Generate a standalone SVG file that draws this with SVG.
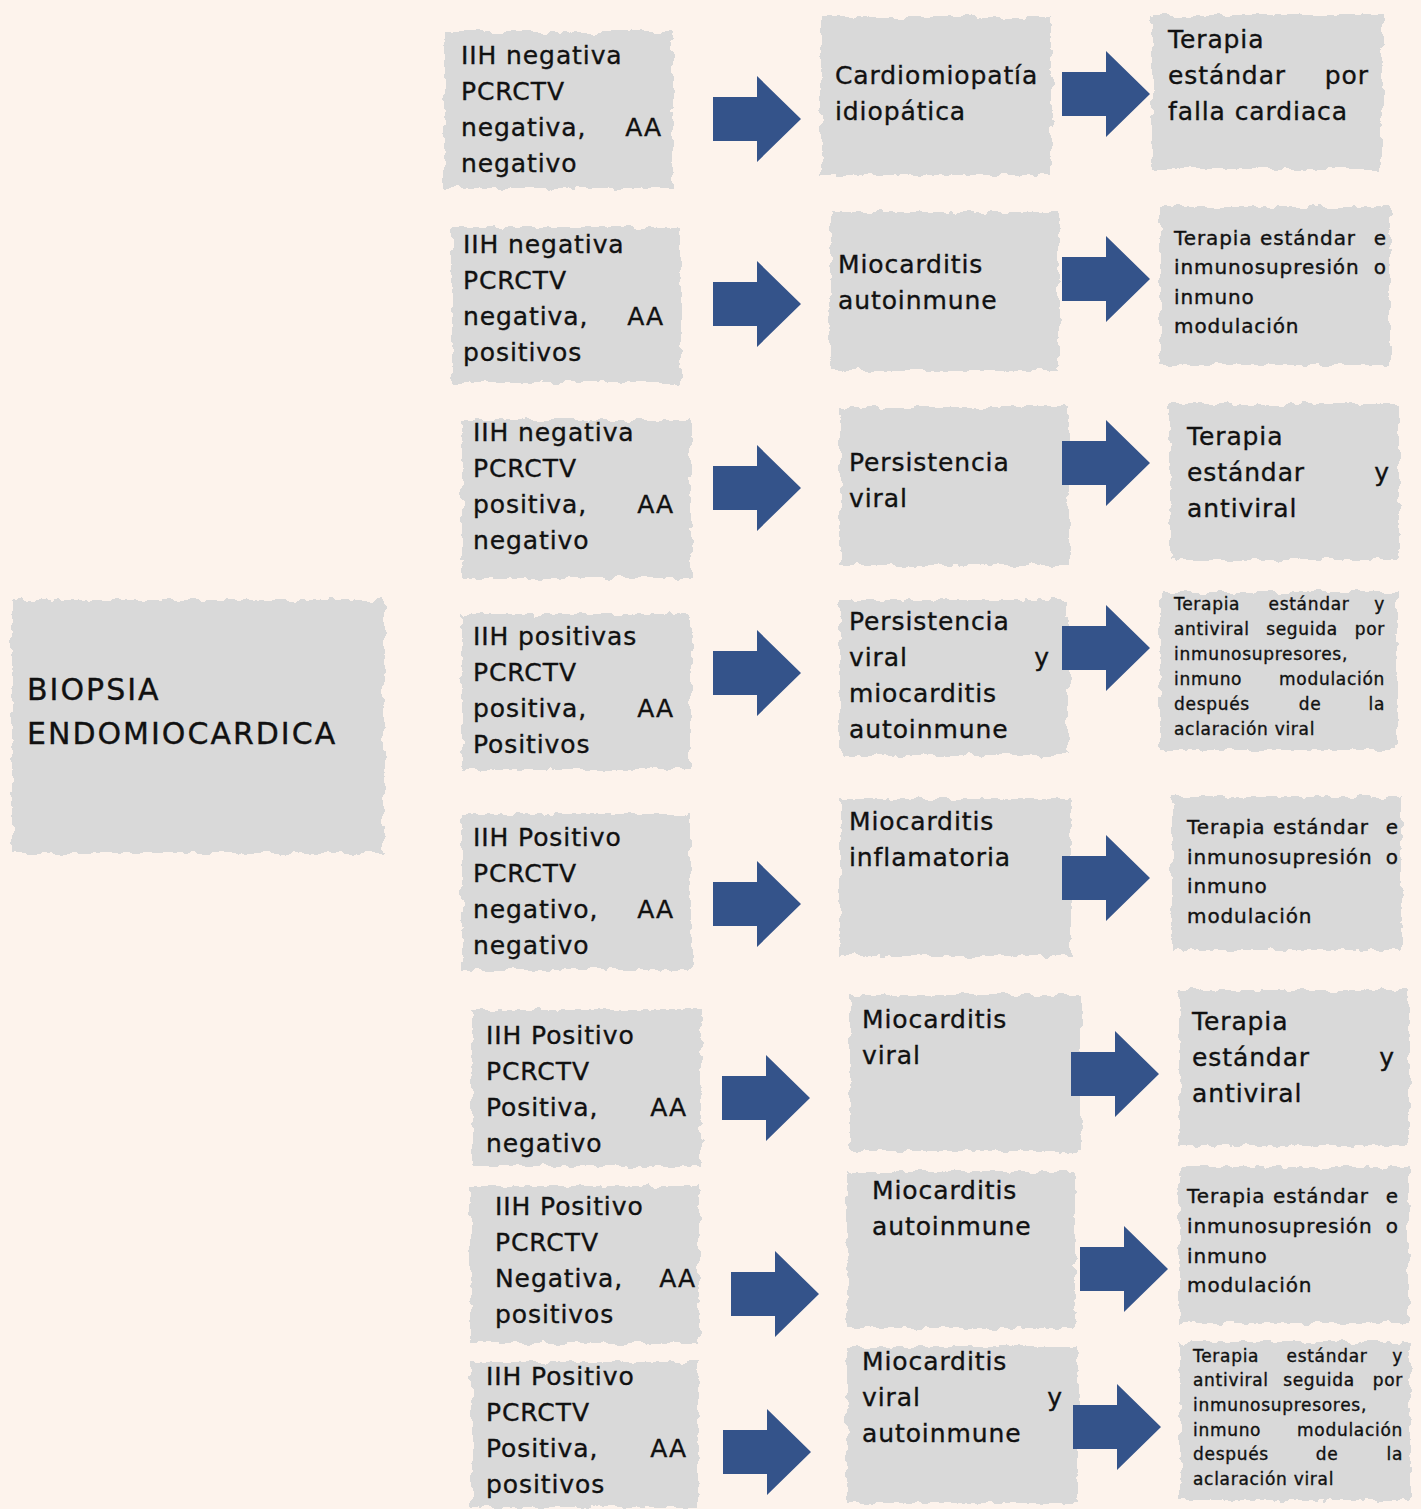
<svg xmlns="http://www.w3.org/2000/svg" xmlns:xlink="http://www.w3.org/1999/xlink" width="1421" height="1509" viewBox="0 0 1421 1509">
<style>
.box{fill:#d9d9d9;filter:url(#rough)}
text{font-family:"DejaVu Sans","Liberation Sans",sans-serif;fill:#111;stroke:#111;stroke-width:0.35px}
.l{font-size:25px;letter-spacing:0.9px}
.m{font-size:20px;letter-spacing:0.9px}
.s{font-size:17px;letter-spacing:0.7px}
.t{font-size:30px;letter-spacing:2px}
.e{text-anchor:end}
.c{text-anchor:middle}
.arrow{fill:#34538a}
</style>
<defs>
<filter id="rough" x="-5%" y="-5%" width="110%" height="110%">
<feTurbulence type="fractalNoise" baseFrequency="0.08" numOctaves="3" seed="4" result="n"/>
<feDisplacementMap in="SourceGraphic" in2="n" scale="10" xChannelSelector="R" yChannelSelector="G"/>
</filter>
<path id="arr" d="M0,-22 H44 V-43 L88,0 L44,43 V22 H0 Z"/>
</defs>
<rect width="1421" height="1509" fill="#fdf3ec"/>

<g id="n-biopsia"><rect class="box" x="12" y="600" width="372" height="253"/>
<text class="t" x="27" y="700">BIOPSIA</text><text class="t" x="27" y="744">ENDOMIOCARDICA</text></g>

<g id="r1">
<g id="a1"><rect class="box" x="445" y="32" width="228" height="156"/>
<text class="l" x="461" y="64">IIH negativa</text><text class="l" x="461" y="100">PCRCTV</text>
<text class="l" x="461" y="136">negativa,<tspan class="e" x="662">AA</tspan></text><text class="l" x="461" y="172">negativo</text></g>
<g id="b1"><rect class="box" x="821" y="17" width="230" height="158"/>
<text class="l" x="835" y="84">Cardiomiopatía</text><text class="l" x="835" y="120">idiopática</text></g>
<g id="c1"><rect class="box" x="1152" y="15" width="230" height="154"/>
<text class="l" x="1168" y="48">Terapia</text><text class="l" x="1168" y="84">estándar<tspan class="e" x="1369">por</tspan></text>
<text class="l" x="1168" y="120">falla cardiaca</text></g>
</g>

<g id="r2">
<g id="a2"><rect class="box" x="452" y="227" width="229" height="156"/>
<text class="l" x="463" y="253">IIH negativa</text><text class="l" x="463" y="289">PCRCTV</text>
<text class="l" x="463" y="325">negativa,<tspan class="e" x="664">AA</tspan></text><text class="l" x="463" y="361">positivos</text></g>
<g id="b2"><rect class="box" x="830" y="212" width="229" height="158"/>
<text class="l" x="838" y="273">Miocarditis</text><text class="l" x="838" y="309">autoinmune</text></g>
<g id="c2"><rect class="box" x="1160" y="207" width="230" height="158"/>
<text class="m" x="1174" y="245">Terapia<tspan class="c" x="1308">estándar</tspan><tspan class="e" x="1387">e</tspan></text>
<text class="m" x="1174" y="274">inmunosupresión<tspan class="e" x="1387">o</tspan></text>
<text class="m" x="1174" y="304">inmuno</text><text class="m" x="1174" y="333">modulación</text></g>
</g>

<g id="r3">
<g id="a3"><rect class="box" x="462" y="420" width="229" height="158"/>
<text class="l" x="473" y="441">IIH negativa</text><text class="l" x="473" y="477">PCRCTV</text>
<text class="l" x="473" y="513">positiva,<tspan class="e" x="674">AA</tspan></text><text class="l" x="473" y="549">negativo</text></g>
<g id="b3"><rect class="box" x="840" y="407" width="229" height="158"/>
<text class="l" x="849" y="471">Persistencia</text><text class="l" x="849" y="507">viral</text></g>
<g id="c3"><rect class="box" x="1170" y="404" width="229" height="156"/>
<text class="l" x="1187" y="445">Terapia</text><text class="l" x="1187" y="481">estándar<tspan class="e" x="1390">y</tspan></text>
<text class="l" x="1187" y="517">antiviral</text></g>
</g>

<g id="r4">
<g id="a4"><rect class="box" x="462" y="614" width="229" height="156"/>
<text class="l" x="473" y="645">IIH positivas</text><text class="l" x="473" y="681">PCRCTV</text>
<text class="l" x="473" y="717">positiva,<tspan class="e" x="674">AA</tspan></text><text class="l" x="473" y="753">Positivos</text></g>
<g id="b4"><rect class="box" x="840" y="600" width="228" height="155"/>
<text class="l" x="849" y="630">Persistencia</text><text class="l" x="849" y="666">viral<tspan class="e" x="1050">y</tspan></text>
<text class="l" x="849" y="702">miocarditis</text><text class="l" x="849" y="738">autoinmune</text></g>
<g id="c4"><rect class="box" x="1160" y="592" width="237" height="158"/>
<text class="s" x="1174" y="610">Terapia<tspan class="c" x="1309">estándar</tspan><tspan class="e" x="1385">y</tspan></text>
<text class="s" x="1174" y="635">antiviral<tspan class="c" x="1302">seguida</tspan><tspan class="e" x="1385">por</tspan></text>
<text class="s" x="1174" y="660">inmunosupresores,</text>
<text class="s" x="1174" y="685">inmuno<tspan class="e" x="1385">modulación</tspan></text>
<text class="s" x="1174" y="710">después<tspan class="c" x="1310">de</tspan><tspan class="e" x="1385">la</tspan></text>
<text class="s" x="1174" y="735">aclaración viral</text></g>
</g>

<g id="r5">
<g id="a5"><rect class="box" x="462" y="814" width="229" height="156"/>
<text class="l" x="473" y="846">IIH Positivo</text><text class="l" x="473" y="882">PCRCTV</text>
<text class="l" x="473" y="918">negativo,<tspan class="e" x="674">AA</tspan></text><text class="l" x="473" y="954">negativo</text></g>
<g id="b5"><rect class="box" x="840" y="799" width="231" height="157"/>
<text class="l" x="849" y="830">Miocarditis</text><text class="l" x="849" y="866">inflamatoria</text></g>
<g id="c5"><rect class="box" x="1172" y="797" width="229" height="153"/>
<text class="m" x="1187" y="834">Terapia<tspan class="c" x="1321">estándar</tspan><tspan class="e" x="1399">e</tspan></text>
<text class="m" x="1187" y="864">inmunosupresión<tspan class="e" x="1399">o</tspan></text>
<text class="m" x="1187" y="893">inmuno</text><text class="m" x="1187" y="923">modulación</text></g>
</g>

<g id="r6">
<g id="a6"><rect class="box" x="472" y="1010" width="229" height="156"/>
<text class="l" x="486" y="1044">IIH Positivo</text><text class="l" x="486" y="1080">PCRCTV</text>
<text class="l" x="486" y="1116">Positiva,<tspan class="e" x="687">AA</tspan></text><text class="l" x="486" y="1152">negativo</text></g>
<g id="b6"><rect class="box" x="850" y="995" width="231" height="156"/>
<text class="l" x="862" y="1028">Miocarditis</text><text class="l" x="862" y="1064">viral</text></g>
<g id="c6"><rect class="box" x="1180" y="990" width="229" height="156"/>
<text class="l" x="1192" y="1030">Terapia</text><text class="l" x="1192" y="1066">estándar<tspan class="e" x="1395">y</tspan></text>
<text class="l" x="1192" y="1102">antiviral</text></g>
</g>

<g id="r7">
<g id="a7"><rect class="box" x="471" y="1186" width="228" height="157"/>
<text class="l" x="495" y="1215">IIH Positivo</text><text class="l" x="495" y="1251">PCRCTV</text>
<text class="l" x="495" y="1287">Negativa,<tspan class="e" x="696">AA</tspan></text><text class="l" x="495" y="1323">positivos</text></g>
<g id="b7"><rect class="box" x="847" y="1172" width="228" height="156"/>
<text class="l" x="872" y="1199">Miocarditis</text><text class="l" x="872" y="1235">autoinmune</text></g>
<g id="c7"><rect class="box" x="1180" y="1167" width="229" height="156"/>
<text class="m" x="1187" y="1203">Terapia<tspan class="c" x="1321">estándar</tspan><tspan class="e" x="1399">e</tspan></text>
<text class="m" x="1187" y="1233">inmunosupresión<tspan class="e" x="1399">o</tspan></text>
<text class="m" x="1187" y="1263">inmuno</text><text class="m" x="1187" y="1292">modulación</text></g>
</g>

<g id="r8">
<g id="a8"><rect class="box" x="472" y="1362" width="226" height="145"/>
<text class="l" x="486" y="1385">IIH Positivo</text><text class="l" x="486" y="1421">PCRCTV</text>
<text class="l" x="486" y="1457">Positiva,<tspan class="e" x="687">AA</tspan></text><text class="l" x="486" y="1493">positivos</text></g>
<g id="b8"><rect class="box" x="847" y="1347" width="231" height="156"/>
<text class="l" x="862" y="1370">Miocarditis</text><text class="l" x="862" y="1406">viral<tspan class="e" x="1063">y</tspan></text>
<text class="l" x="862" y="1442">autoinmune</text></g>
<g id="c8"><rect class="box" x="1180" y="1342" width="230" height="158"/>
<text class="s" x="1193" y="1362">Terapia<tspan class="c" x="1327">estándar</tspan><tspan class="e" x="1403">y</tspan></text>
<text class="s" x="1193" y="1386">antiviral<tspan class="c" x="1319">seguida</tspan><tspan class="e" x="1403">por</tspan></text>
<text class="s" x="1193" y="1411">inmunosupresores,</text>
<text class="s" x="1193" y="1436">inmuno<tspan class="e" x="1403">modulación</tspan></text>
<text class="s" x="1193" y="1460">después<tspan class="c" x="1327">de</tspan><tspan class="e" x="1403">la</tspan></text>
<text class="s" x="1193" y="1485">aclaración viral</text></g>
</g>

<g id="connectors" class="arrow">
<use xlink:href="#arr" x="713" y="119"/>
<use xlink:href="#arr" x="713" y="304"/>
<use xlink:href="#arr" x="713" y="488"/>
<use xlink:href="#arr" x="713" y="673"/>
<use xlink:href="#arr" x="713" y="904"/>
<use xlink:href="#arr" x="722" y="1098"/>
<use xlink:href="#arr" x="731" y="1294"/>
<use xlink:href="#arr" x="723" y="1452"/>
<use xlink:href="#arr" x="1062" y="94"/>
<use xlink:href="#arr" x="1062" y="279"/>
<use xlink:href="#arr" x="1062" y="463"/>
<use xlink:href="#arr" x="1062" y="648"/>
<use xlink:href="#arr" x="1062" y="878"/>
<use xlink:href="#arr" x="1071" y="1074"/>
<use xlink:href="#arr" x="1080" y="1269"/>
<use xlink:href="#arr" x="1073" y="1427"/>
</g>
</svg>
